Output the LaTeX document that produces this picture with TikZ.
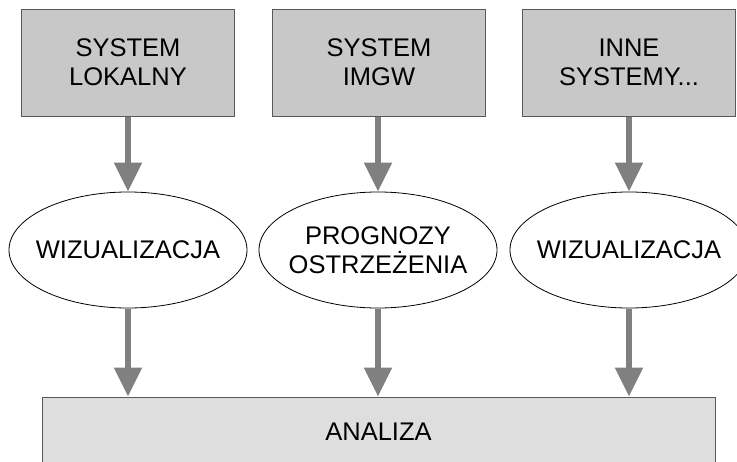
\documentclass[tikz,border=0pt]{standalone}
\usepackage{fontspec}
\setmainfont{Liberation Sans}
\usetikzlibrary{arrows.meta,shapes.geometric}
\definecolor{boxgray}{RGB}{200,200,200}
\definecolor{anagray}{RGB}{222,222,222}
\definecolor{arrgray}{RGB}{128,128,128}
\tikzset{
	sysbox/.style={draw=black!65, line width=0.9pt, fill=boxgray, minimum width=213pt, minimum height=107pt, inner sep=0pt, align=center},
	oval/.style={draw, line width=0.8pt, ellipse, fill=white, minimum width=238pt, minimum height=116pt, inner xsep=-8pt, inner ysep=0pt, align=center},
	anabox/.style={draw=black!65, line width=0.9pt, fill=anagray, minimum width=673pt, minimum height=70pt, inner sep=0pt},
	flow/.style={draw=arrgray, line width=5.5pt, -{Triangle[length=29pt, width=27pt, fill=arrgray]}, shorten <=0.5pt}
}
\begin{document}
\begin{tikzpicture}[x=1pt, y=-1pt, font=\fontsize{25.5}{29}\selectfont, text=black]
			%%%%% START %%%%%
			\useasboundingbox (0, 0) rectangle (737, 461);
			
			\node[sysbox] (sys1) at (128, 62.5) {SYSTEM\\LOKALNY};
			\node[sysbox] (sys2) at (379, 62.5) {SYSTEM\\IMGW};
			\node[sysbox] (sys3) at (629, 62.5) {INNE\\SYSTEMY...};
			
			\node[oval] (wiz1) at (128, 250) {WIZUALIZACJA};
			\node[oval] (prog) at (378, 250) {PROGNOZY\\OSTRZEŻENIA};
			\node[oval] (wiz2) at (629, 250) {WIZUALIZACJA};
			
			\node[anabox] (ana) at (378.5, 432) {ANALIZA};
			
			\draw[flow] (sys1) -- (wiz1);
			\draw[flow] (sys2.south -| prog) -- (prog);
			\draw[flow] (sys3) -- (wiz2);
			
			\draw[flow] (wiz1.south) -- (wiz1.south |- ana.north);
			\draw[flow] (prog.south) -- (prog.south |- ana.north);
			\draw[flow] (wiz2.south) -- (wiz2.south |- ana.north);
			%%%%% END %%%%%
\end{tikzpicture}
\end{document}
